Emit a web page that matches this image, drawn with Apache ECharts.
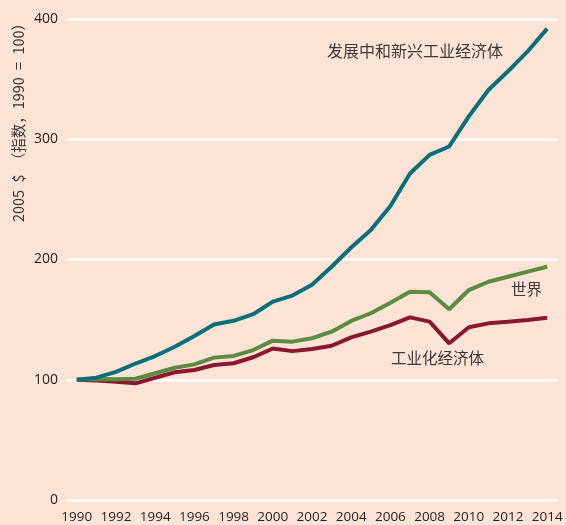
<!DOCTYPE html>
<html>
<head>
<meta charset="utf-8">
<script src="https://cdn.jsdelivr.net/npm/echarts@6/dist/echarts.min.js"></script>
<style>
html,body{margin:0;padding:0;background:#fbe4d6;}
#chart{width:566px;height:525px;}
</style>
</head>
<body>
<div id="chart"></div>
<script>
const years = ['1990','1991','1992','1993','1994','1995','1996','1997','1998','1999','2000','2001','2002','2003','2004','2005','2006','2007','2008','2009','2010','2011','2012','2013','2014'];
const developing = [100,101.7,106.5,113.5,119.7,127.5,136.4,146,149,154.5,165,170,179,194,210,224.5,244.5,271.5,287,294,319,341,356.5,373,392];
const world = [100,100.6,100.5,100.8,105.4,110,112.8,118.4,119.8,124.7,132.5,131.7,134.5,140,148.9,155.3,164.1,173.2,172.7,158.6,174.6,181.5,185.7,189.9,194];
const industrial = [100,99.4,98.4,97,101.7,106.2,108.1,112.3,113.7,118.7,126,123.8,125.6,128.3,135.3,140,145.5,151.9,148.3,130.3,143.6,146.9,148.3,149.7,151.6];
const yTicks = [0,100,200,300,400];

const chart = echarts.init(document.getElementById('chart'), null, {renderer:'canvas'});
const lbl = {fontFamily:'Noto Sans CJK SC', fontSize:15.5, fill:'#3a3a3a'};
chart.setOption({
  backgroundColor:'#fbe4d6',
  animation:false,
  grid:{left:67,right:9,top:19,bottom:25,containLabel:false},
  xAxis:{
    type:'category',
    data:years,
    boundaryGap:true,
    axisLine:{show:false},
    axisTick:{show:false},
    axisLabel:{interval:1,color:'#231f20',fontFamily:'Open Sans',fontSize:13.5,margin:10},
    splitLine:{show:false}
  },
  yAxis:{
    type:'value',
    min:yTicks[0],max:yTicks[yTicks.length-1],interval:100,
    axisLine:{show:false},
    axisTick:{show:false},
    axisLabel:{color:'#231f20',fontFamily:'Open Sans',fontSize:14,margin:9},
    splitLine:{show:true,lineStyle:{color:'#ffffff',width:2.5}}
  },
  series:[
    {name:'工业化经济体',type:'line',data:industrial,symbol:'none',lineStyle:{color:'#8a1730',width:4},z:3},
    {name:'世界',type:'line',data:world,symbol:'none',lineStyle:{color:'#5c8a3e',width:4},z:4},
    {name:'发展中和新兴工业经济体',type:'line',data:developing,symbol:'none',lineStyle:{color:'#0b6f7b',width:4},z:5}
  ],
  graphic:[
    {type:'text',left:327,top:43,style:Object.assign({},lbl,{text:'发展中和新兴工业经济体',fontSize:16})},
    {type:'text',left:511,top:281,style:Object.assign({text:'世界'},lbl)},
    {type:'text',left:391,top:350,style:Object.assign({text:'工业化经济体'},lbl)},
    {type:'text',x:18,y:119,rotation:Math.PI/2,style:{text:'2005\u2002$\u2002（指数，1990\u2002=\u2002100）',fontFamily:'Noto Sans CJK SC',fontSize:14.5,fill:'#333333',textAlign:'center',textVerticalAlign:'middle'}}
  ]
});
</script>
</body>
</html>
